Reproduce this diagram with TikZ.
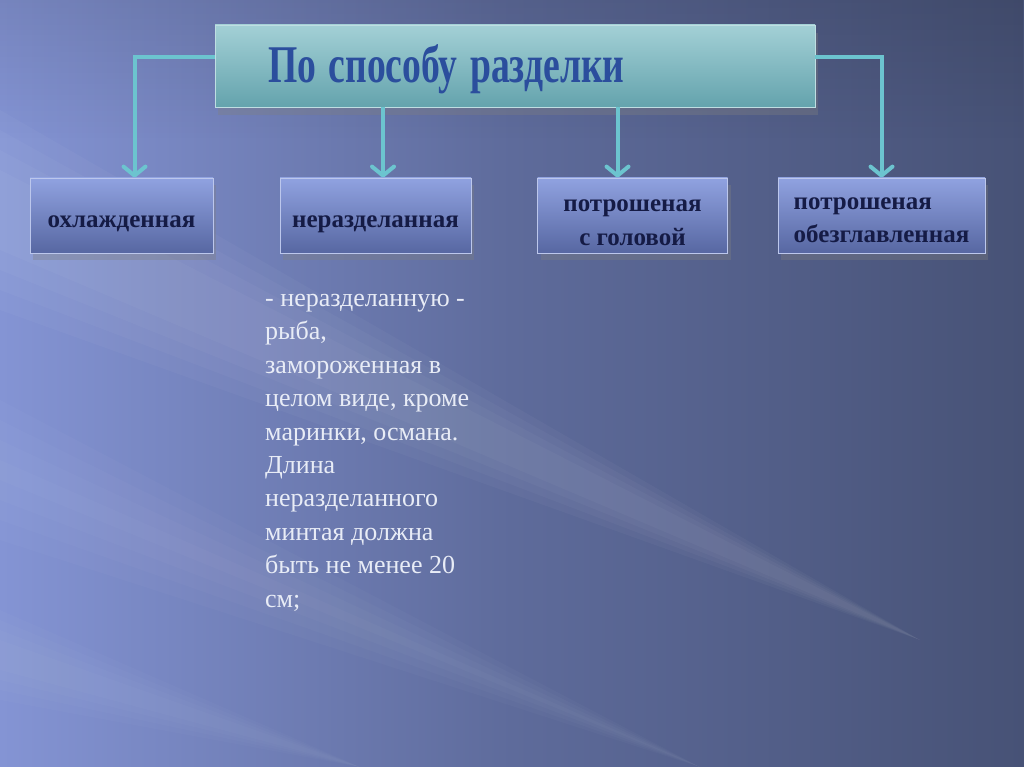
\documentclass[tikz,border=0pt]{standalone}
\usepackage{fontspec}
\setmainfont{Liberation Serif}[BoldFont={Liberation Serif Bold}]
\usetikzlibrary{arrows.meta,shadows,fadings}

\definecolor{fondG}{HTML}{8494D4}
\definecolor{fondM}{HTML}{5E6B9B}
\definecolor{fondD}{HTML}{475276}
\definecolor{turq}{HTML}{6CC4CF}
\definecolor{titreH}{HTML}{A3D0D6}
\definecolor{titreB}{HTML}{64A3AD}
\definecolor{bleuTitre}{HTML}{2B4E9D}
\definecolor{boiteH}{HTML}{90A2E0}
\definecolor{boiteB}{HTML}{5767A2}
\definecolor{encre}{HTML}{151B45}
\definecolor{craie}{HTML}{E8ECF6}

\tikzfading[name=voile, top color=transparent!0, bottom color=transparent!100]

\begin{document}
\begin{tikzpicture}[x=1pt,y=-1pt,
  boite/.style={draw=boiteH!60!white, line width=0.8pt,
    top color=boiteH, bottom color=boiteB,
    minimum height=75pt, inner sep=0pt, text=encre,
    text depth=0pt, text height=25pt,
    font=\bfseries\fontsize{25}{33}\selectfont,
    drop shadow={shadow xshift=3pt,shadow yshift=-7pt,opacity=.35}},
  rayon/.style={fill=white},
  fleche/.style={draw=turq, line width=4pt,
    -{Straight Barb[length=9pt,width=22pt,round]}}]

%% fond
\useasboundingbox (0,0) rectangle (1024,767);
\shade[left color=fondG, right color=fondD, middle color=fondM]
  (0,0) rectangle (1024,767);
\fill[black, opacity=.10, path fading=voile] (0,0) rectangle (1024,140);

%% rayons (bords adoucis)
\foreach \d in {0,20,40,60}{
  \fill[rayon, opacity=.03] (0,110+\d) -- (0,310-\d) -- (920,640) -- cycle;
  \fill[rayon, opacity=.025] (0,400+\d) -- (0,540-\d) -- (700,767) -- cycle;
  \fill[rayon, opacity=.02] (0,610+\d/2) -- (0,700-\d/2) -- (360,767) -- cycle;
}

%% titre
\node[draw=titreH!70!white, line width=0.8pt, top color=titreH, bottom color=titreB,
  minimum width=600pt, minimum height=82pt, inner xsep=53pt, inner ysep=0pt,
  text width=494pt, align=left, text=bleuTitre,
  text height=34pt, text depth=0pt,
  font=\bfseries\fontsize{53}{56}\selectfont,
  drop shadow={shadow xshift=3pt,shadow yshift=-8pt,opacity=.35}]
  (titre) at (515,66) {\scalebox{0.71}[1]{По способу разделки}};

%% cases
\node[boite, minimum width=183pt] (b1) at (121.5,215.5) {охлажденная};
\node[boite, minimum width=191pt] (b2) at (375.5,215.5) {неразделанная};
\node[boite, minimum width=190pt, align=center, text height=59pt] (b3)
  at (632.5,215.5) {потрошеная\\с головой};
\node[boite, minimum width=207pt, align=left, text height=55pt] (b4)
  at (881.5,215.5) {потрошеная\\обезглавленная};

%% fleches
\draw[fleche] ([yshift=9pt]titre.west) -| ([xshift=13pt]b1.north);
\draw[fleche] ([yshift=9pt]titre.east) -| (b4.north);
\draw[fleche] ([xshift=7.5pt]b2.north |- titre.south) -- ([xshift=7.5pt]b2.north);
\draw[fleche] ([xshift=-15pt]b3.north |- titre.south) -- ([xshift=-15pt]b3.north);

%% texte
\node[anchor=north west, inner sep=0pt, align=left, text=craie,
  font=\fontsize{26}{33.4}\selectfont] (texte) at (265,294)
  {- неразделанную -\\рыба,\\замороженная в\\целом виде, кроме\\маринки, османа.\\Длина\\неразделанного\\минтая должна\\быть не менее 20\\см;};

\end{tikzpicture}
\end{document}
